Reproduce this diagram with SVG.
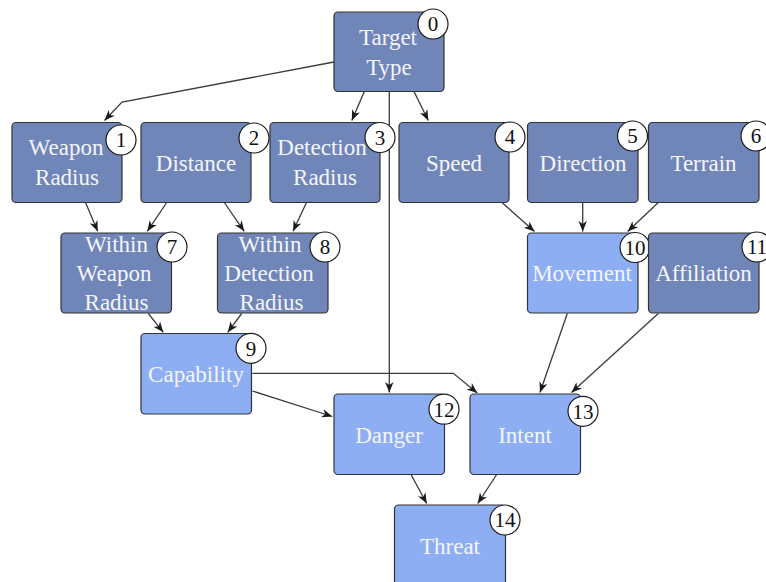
<svg xmlns="http://www.w3.org/2000/svg" width="766" height="582" viewBox="0 0 766 582">
  <defs>
    <marker id="arrow" viewBox="-11 -5 12 10" markerWidth="12" markerHeight="10" refX="0" refY="0" orient="auto" markerUnits="userSpaceOnUse">
      <path d="M0,0 L-10.5,-4.2 L-7.5,0 L-10.5,4.2 Z" fill="#1a1a1a"/>
    </marker>
    <style>
      .box { stroke: #333333; stroke-width: 1.2; }
      .base { fill: #7086b8; }
      .derived { fill: #8daef3; }
      .label { font-family: 'Liberation Serif', 'Times New Roman', serif; font-size: 23px; fill: #f4f5fb; text-anchor: middle; }
      .badge circle { fill: #ffffff; stroke: #1a1a1a; stroke-width: 1.2; }
      .badge text { font-family: 'Liberation Serif', 'Times New Roman', serif; font-size: 21px; fill: #111111; text-anchor: middle; }
      .edge { fill: none; stroke: #3a3a3a; stroke-width: 1.3; marker-end: url(#arrow); }
    </style>
  </defs>

  <rect width="766" height="582" fill="#ffffff"/>

  <!-- connectors -->
  <g id="edges">
    <polyline class="edge" points="334,62 122,102 104.5,120.5"/>
    <line class="edge" x1="364.3" y1="91.5" x2="351.8" y2="120.5"/>
    <line class="edge" x1="389.3" y1="91.5" x2="389.3" y2="392.5"/>
    <line class="edge" x1="414" y1="91.5" x2="428.3" y2="120.5"/>
    <line class="edge" x1="85.5" y1="202.5" x2="97.7" y2="231.3"/>
    <line class="edge" x1="166.7" y1="202.5" x2="147.3" y2="231.3"/>
    <line class="edge" x1="224.3" y1="202.5" x2="244.2" y2="231.3"/>
    <line class="edge" x1="306.5" y1="202.5" x2="293" y2="231.3"/>
    <line class="edge" x1="502" y1="202.5" x2="534.5" y2="231.5"/>
    <line class="edge" x1="582.7" y1="202.5" x2="582.7" y2="231.5"/>
    <line class="edge" x1="658.3" y1="202.5" x2="627.7" y2="231.5"/>
    <line class="edge" x1="148.3" y1="313.5" x2="163.3" y2="332.3"/>
    <line class="edge" x1="241.7" y1="313.5" x2="227.7" y2="332.3"/>
    <line class="edge" x1="252.3" y1="391" x2="332.3" y2="416.5"/>
    <polyline class="edge" points="252.3,373.3 453.3,373.3 477.3,393"/>
    <line class="edge" x1="567.3" y1="313.5" x2="540" y2="392.5"/>
    <line class="edge" x1="658.3" y1="313.5" x2="571.5" y2="392.5"/>
    <line class="edge" x1="411" y1="474.5" x2="426.7" y2="503.5"/>
    <line class="edge" x1="496.7" y1="474.5" x2="477.7" y2="503.5"/>
  </g>

  <!-- nodes -->
  <g id="nodes">
  <g id="node-0">
    <rect class="box base" x="334" y="12" width="110" height="79.5" rx="4"/>
    <text class="label" x="388" y="45">Target</text>
    <text class="label" x="389" y="75">Type</text>
    <g class="badge"><circle cx="433" cy="24" r="15"/><text x="433" y="31.3">0</text></g>
  </g>

  <g id="node-1">
    <rect class="box base" x="12" y="122.5" width="110" height="80" rx="4"/>
    <text class="label" x="66" y="155">Weapon</text>
    <text class="label" x="67" y="185">Radius</text>
    <g class="badge"><circle cx="121" cy="140" r="15"/><text x="121" y="147.3">1</text></g>
  </g>

  <g id="node-2">
    <rect class="box base" x="141" y="122.5" width="110" height="80" rx="4"/>
    <text class="label" x="196" y="170.5">Distance</text>
    <g class="badge"><circle cx="254" cy="138" r="15"/><text x="254" y="145.3">2</text></g>
  </g>

  <g id="node-3">
    <rect class="box base" x="270" y="122.5" width="110" height="80" rx="4"/>
    <text class="label" x="322" y="155">Detection</text>
    <text class="label" x="325" y="185">Radius</text>
    <g class="badge"><circle cx="380" cy="137.5" r="15"/><text x="380" y="144.8">3</text></g>
  </g>

  <g id="node-4">
    <rect class="box base" x="399" y="122.5" width="110" height="80" rx="4"/>
    <text class="label" x="454" y="170.5">Speed</text>
    <g class="badge"><circle cx="510" cy="137" r="15"/><text x="510" y="144.3">4</text></g>
  </g>

  <g id="node-5">
    <rect class="box base" x="527.5" y="122.5" width="110.5" height="80" rx="4"/>
    <text class="label" x="583" y="170.5">Direction</text>
    <g class="badge"><circle cx="632.5" cy="136" r="15"/><text x="632.5" y="143.3">5</text></g>
  </g>

  <g id="node-6">
    <rect class="box base" x="648.5" y="122.5" width="110.5" height="80" rx="4"/>
    <text class="label" x="703.5" y="170.5">Terrain</text>
    <g class="badge"><circle cx="756" cy="136" r="15"/><text x="756" y="143.3">6</text></g>
  </g>

  <g id="node-7">
    <rect class="box base" x="61" y="233" width="110.5" height="80" rx="4"/>
    <text class="label" x="116.5" y="251.5">Within</text>
    <text class="label" x="114" y="280.5">Weapon</text>
    <text class="label" x="116.5" y="309.5">Radius</text>
    <g class="badge"><circle cx="172" cy="247" r="15"/><text x="172" y="254.3">7</text></g>
  </g>

  <g id="node-8">
    <rect class="box base" x="217.5" y="233" width="110.5" height="80" rx="4"/>
    <text class="label" x="270" y="251.5">Within</text>
    <text class="label" x="269" y="280.5">Detection</text>
    <text class="label" x="271.5" y="309.5">Radius</text>
    <g class="badge"><circle cx="325" cy="247" r="15"/><text x="325" y="254.3">8</text></g>
  </g>

  <g id="node-10">
    <rect class="box derived" x="527.5" y="233" width="110.5" height="80" rx="4"/>
    <text class="label" x="582" y="281">Movement</text>
    <g class="badge"><circle cx="635" cy="247.5" r="15"/><text x="635" y="254.8">10</text></g>
  </g>

  <g id="node-11">
    <rect class="box base" x="648.5" y="233" width="110.5" height="80" rx="4"/>
    <text class="label" x="703.5" y="281">Affiliation</text>
    <g class="badge"><circle cx="757" cy="247" r="15"/><text x="757" y="254.3">11</text></g>
  </g>

  <g id="node-9">
    <rect class="box derived" x="141" y="333.5" width="110.5" height="80.5" rx="4"/>
    <text class="label" x="196" y="382">Capability</text>
    <g class="badge"><circle cx="251" cy="348.3" r="15"/><text x="251" y="355.6">9</text></g>
  </g>

  <g id="node-12">
    <rect class="box derived" x="334" y="394" width="110.5" height="80.5" rx="4"/>
    <text class="label" x="389" y="443">Danger</text>
    <g class="badge"><circle cx="444" cy="409.2" r="15"/><text x="444" y="416.5">12</text></g>
  </g>

  <g id="node-13">
    <rect class="box derived" x="470" y="394" width="110.5" height="80.5" rx="4"/>
    <text class="label" x="525" y="443">Intent</text>
    <g class="badge"><circle cx="583" cy="411.3" r="15"/><text x="583" y="418.6">13</text></g>
  </g>

  <g id="node-14">
    <rect class="box derived" x="394.5" y="505" width="111" height="82" rx="4"/>
    <text class="label" x="450" y="553.5">Threat</text>
    <g class="badge"><circle cx="505" cy="520" r="15"/><text x="505" y="527.3">14</text></g>
  </g>
  </g>
</svg>
